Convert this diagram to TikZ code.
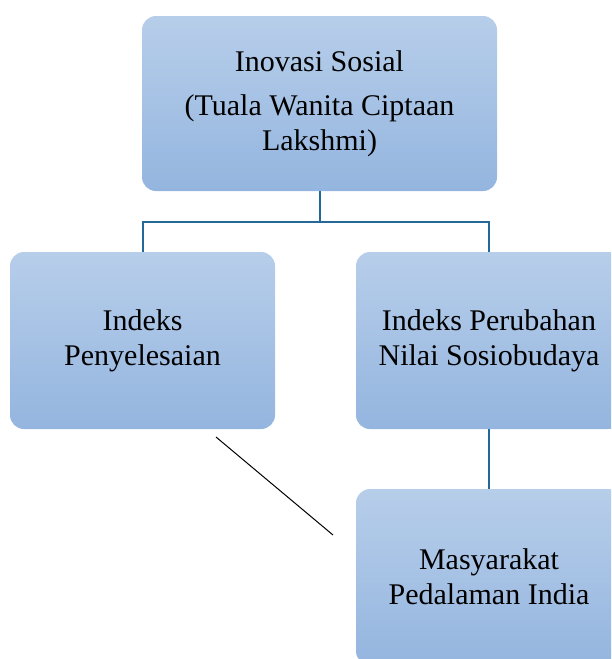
\documentclass[tikz,border=0pt]{standalone}
\usepackage{fontspec}
\setmainfont{Liberation Serif}
\definecolor{boxtop}{RGB}{183,206,234}
\definecolor{boxbot}{RGB}{148,181,223}
\definecolor{linkblue}{RGB}{35,104,152}

\begin{document}
\begin{tikzpicture}[x=1pt,y=-1pt]
  \useasboundingbox (0,0) rectangle (611,659);
  \clip (0,0) rectangle (611,659);
  \tikzstyle{every node}=[shape=rectangle,rounded corners=14pt,top color=boxtop,bottom color=boxbot,
                          align=center,inner sep=0pt,font=\fontsize{30}{35}\selectfont];
  \tikzstyle{link}=[draw=linkblue,line width=2pt];
  \path (319.5,103.5) node[minimum width=355pt,minimum height=175pt] (social) {Inovasi Sosial\\[9pt](Tuala Wanita Ciptaan\\Lakshmi)};
  \path (142.5,340.5) node[minimum width=265pt,minimum height=177pt] (settle) {Indeks\\Penyelesaian};
  \path (489,340.5) node[minimum width=266pt,minimum height=177pt] (value) {Indeks Perubahan\\Nilai Sosiobudaya};
  \path (489,577) node[minimum width=266pt,minimum height=176pt] (rural) {Masyarakat\\Pedalaman India};

  \coordinate (split) at (319.5,222);
  \draw[link] (social.south) -- (split)
              (split) -| (settle.north)
              (split) -| (value.north)
              (value.south) -- (rural.north);
  \coordinate (slashA) at (216,437);
  \coordinate (slashB) at (333,535);
  \draw[black,line width=1pt] (slashA) -- (slashB);
\end{tikzpicture}
\end{document}
